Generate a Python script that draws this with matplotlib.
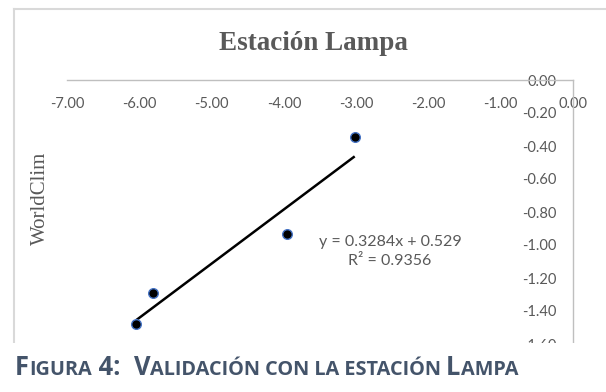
import matplotlib
matplotlib.use("Agg")
import matplotlib.pyplot as plt
from matplotlib.patches import Rectangle
from matplotlib.lines import Line2D
import numpy as np

# Observed station values (x) against WorldClim values (y)
station = [-3.02, -3.96, -5.81, -6.04]
worldclim = [-0.345, -0.933, -1.293, -1.479]

# Linear trend reported on the chart
slope = 0.3284
intercept = 0.529
r_squared = 0.9356

x_ticks = [-7.0, -6.0, -5.0, -4.0, -3.0, -2.0, -1.0, 0.0]
y_ticks = [0.0, -0.2, -0.4, -0.6, -0.8, -1.0, -1.2, -1.4, -1.6]

title = "Estación Lampa"
y_label = "WorldClim"
caption = [("F", True), ("IGURA", False), (" 4:  ", True), ("V", True),
           ("ALIDACIÓN CON LA ESTACIÓN ", False), ("L", True), ("AMPA", False)]

W, H = 606, 392
fig = plt.figure(figsize=(W / 100, H / 100), dpi=100)

text_gray = "#595959"
axis_gray = "#BFBFBF"
num_font = "Lato"

ax = fig.add_axes([67 / W, 1 - 344 / H, (573 - 67) / W, (344 - 80) / H])
ax.set_xlim(-7, 0)
ax.set_ylim(-1.6, 0)

for side in ("top", "right"):
    ax.spines[side].set_visible(False)
ax.spines["bottom"].set_position(("data", 0))
ax.spines["left"].set_position(("data", 0))
for side in ("bottom", "left"):
    ax.spines[side].set_color(axis_gray)
    ax.spines[side].set_linewidth(1.0)

ax.set_xticks(x_ticks)
ax.set_xticklabels([f"{v:.2f}" for v in x_ticks])
ax.set_yticks(y_ticks)
ax.set_yticklabels([f"{v:.2f}" if v != 0 else "0.00" for v in y_ticks])
ax.tick_params(axis="both", length=0, colors=text_gray, labelsize=10.5)
ax.tick_params(axis="x", pad=12)
ax.tick_params(axis="y", pad=12)
for lbl in ax.get_xticklabels() + ax.get_yticklabels():
    lbl.set_fontfamily(num_font)
for lbl in ax.get_yticklabels():
    lbl.set_bbox(dict(facecolor="white", edgecolor="none", pad=0.5))

# Trend line over the range of the data
xs = np.array([min(station), max(station)])
ax.plot(xs, slope * xs + intercept, color="black", lw=1.8, solid_capstyle="butt", zorder=3)

ax.scatter(station, worldclim, s=48, color="black", edgecolors="#4472C4",
           linewidths=1.0, zorder=4)

ax.text(-2.53, -1.04, f"y = {slope:.4f}x + {intercept:.3f}\nR² = {r_squared:.4f}",
        ha="center", va="center", multialignment="center", color=text_gray,
        fontsize=11.5, family=num_font, linespacing=1.4)

fig.text(313 / W, 1 - 44 / H, title, ha="center", va="center",
         family="Liberation Serif", weight="bold", fontsize=19.5, color=text_gray)
fig.text(40 / W, 1 - 198 / H, y_label, ha="center", va="center", rotation=90,
         family="Liberation Serif", fontsize=15, color=text_gray)

# Chart frame
frame = "#D9D9D9"
fig.add_artist(Line2D([14 / W, 1.0], [1 - 9 / H, 1 - 9 / H], color=frame, lw=1.5,
                      transform=fig.transFigure))
fig.add_artist(Line2D([14 / W, 14 / W], [1 - 9 / H, 1 - 343 / H], color=frame, lw=1.5,
                      transform=fig.transFigure))

# White band under the chart holding the caption
fig.add_artist(Rectangle((0, 0), 1, 1 - 343 / H, transform=fig.transFigure,
                         facecolor="white", edgecolor="none", zorder=5))

renderer = fig.canvas.get_renderer()
cap_color = "#44546A"
big, small = 18.4, 18.4 * 0.78
x = 15
for txt, is_big in caption:
    t = fig.text(x / W, 1 - 375 / H, txt, ha="left", va="baseline",
                 family="Open Sans", weight="bold", fontsize=big if is_big else small,
                 color=cap_color, zorder=6)
    bb = t.get_window_extent(renderer)
    x += bb.width

fig.savefig("out.png", dpi=100)
